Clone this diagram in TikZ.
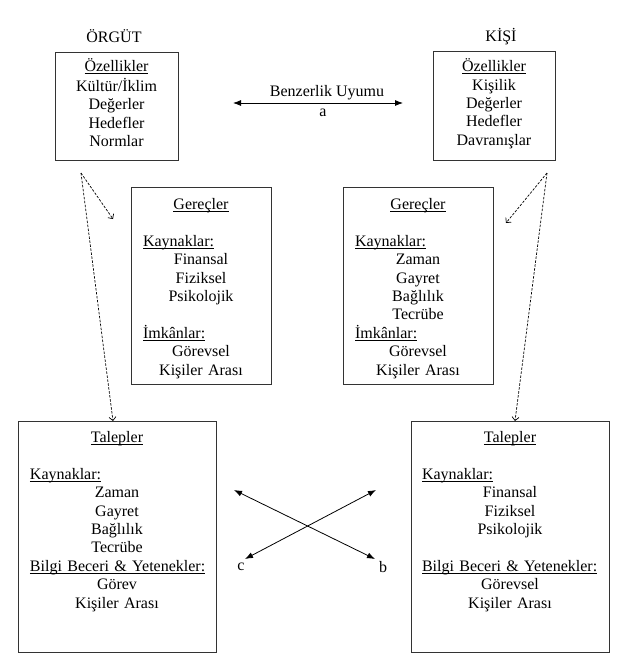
\documentclass[tikz,border=0pt]{standalone}
\usepackage{fontspec}
\setmainfont{Liberation Serif}
\usetikzlibrary{arrows.meta}
\newsavebox{\ulbox}
\newcommand{\uln}[1]{\sbox{\ulbox}{#1}\rlap{\rule[-2.2pt]{\wd\ulbox}{0.8pt}}\usebox{\ulbox}}
\newcommand{\lft}[1]{\makebox[\linewidth][l]{#1}}

\begin{document}
\begin{tikzpicture}[x=1pt,y=-1pt,
  box node/.style={draw=black!80,line width=1pt,inner sep=0pt},
  text node/.style={anchor=north,inner sep=0pt,align=center,font=\fontsize{16}{18.4}\selectfont},
  label node/.style={inner sep=0pt,font=\fontsize{16}{18.4}\selectfont},
  dash arrow/.style={->,>={Straight Barb[length=3.5pt,width=7pt]},line width=0.7pt,dash pattern=on 2.5pt off 1.5pt},
  fit arrow/.style={<->,>={Latex[length=8pt,width=6pt]},line width=0.8pt}]
  \useasboundingbox (0,0) rectangle (618,662);

  \node[label node] (orgtitle) at (114,36) {ÖRGÜT};
  \node[label node] (kisititle) at (501,37) {KİŞİ};

  \node[box node,minimum width=123pt,minimum height=108pt] (org) at (116.5,106) {};
  \node[box node,minimum width=122pt,minimum height=109pt] (kisi) at (494,105.5) {};
  \node[box node,minimum width=140pt,minimum height=197pt] (gerecL) at (201,285.5) {};
  \node[box node,minimum width=150pt,minimum height=197pt] (gerecR) at (418,285.5) {};
  \node[box node,minimum width=198pt,minimum height=231pt] (talepL) at (117,536.5) {};
  \node[box node,minimum width=198pt,minimum height=231pt] (talepR) at (510,536.5) {};

  \node[text node,text width=99pt] (orgtext) at ([yshift=-7pt]org.north)
    {\strut\uln{Özellikler}\\Kültür/İklim\\Değerler\\Hedefler\\Normlar};
  \node[text node,text width=98pt] (kisitext) at ([yshift=-8pt]kisi.north)
    {\strut\uln{Özellikler}\\Kişilik\\Değerler\\Hedefler\\Davranışlar};
  \node[text node,text width=116pt] (gerecLtext) at ([yshift=-10pt]gerecL.north)
    {\strut\uln{Gereçler}\\[18.4pt]
     \lft{\uln{Kaynaklar:}}\\Finansal\\Fiziksel\\Psikolojik\\[18.4pt]
     \lft{\uln{İmkânlar:}}\\Görevsel\\Kişiler Arası};
  \node[text node,text width=126pt] (gerecRtext) at ([yshift=-10pt]gerecR.north)
    {\strut\uln{Gereçler}\\[18.4pt]
     \lft{\uln{Kaynaklar:}}\\Zaman\\Gayret\\Bağlılık\\Tecrübe\\
     \lft{\uln{İmkânlar:}}\\Görevsel\\Kişiler Arası};
  \node[text node,text width=174pt] (talepLtext) at ([yshift=-9pt]talepL.north)
    {\strut\uln{Talepler}\\[18.4pt]
     \lft{\uln{Kaynaklar:}}\\Zaman\\Gayret\\Bağlılık\\Tecrübe\\
     \lft{\uln{Bilgi Beceri \& Yetenekler:}}\\Görev\\Kişiler Arası};
  \node[text node,text width=176pt] (talepRtext) at ([yshift=-9pt]talepR.north)
    {\strut\uln{Talepler}\\[18.4pt]
     \lft{\uln{Kaynaklar:}}\\Finansal\\Fiziksel\\Psikolojik\\[18.4pt]
     \lft{\uln{Bilgi Beceri \& Yetenekler:}}\\Görevsel\\Kişiler Arası};

  \coordinate (orgout) at (81,173);
  \coordinate (kisiout) at (547,173);
  \coordinate (gerecLin) at (113,219);
  \coordinate (gerecRin) at (506,223);
  \coordinate (talepLin) at (113,421);
  \coordinate (talepRin) at (515,421);

  \path[dash arrow]
    (orgout) edge (gerecLin)
    (orgout) edge (talepLin)
    (kisiout) edge (gerecRin)
    (kisiout) edge (talepRin);

  \coordinate (simL) at (233,103);
  \coordinate (simR) at (403,103);
  \draw[fit arrow] (simL) -- (simR);
  \node[label node] (uyum) at (327,93) {Benzerlik Uyumu};
  \node[label node] (a) at (323,113) {a};

  \coordinate (crossA) at (234,490);
  \coordinate (crossB) at (376,490);
  \coordinate (crossC) at (245,559);
  \coordinate (crossD) at (375,559);
  \path[fit arrow]
    (crossA) edge (crossD)
    (crossB) edge (crossC);
  \node[label node] (c) at (241,567) {c};
  \node[label node] (b) at (383,567) {b};
\end{tikzpicture}
\end{document}
